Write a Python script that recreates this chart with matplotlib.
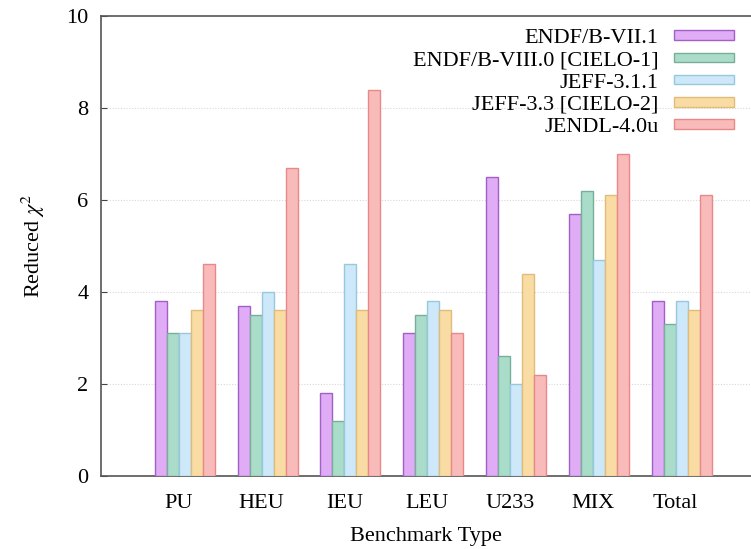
import matplotlib
matplotlib.use("Agg")
import matplotlib.pyplot as plt
import numpy as np
from matplotlib.patches import Patch

categories = ["PU", "HEU", "IEU", "LEU", "U233", "MIX", "Total"]
libraries = ["ENDF/B-VII.1", "ENDF/B-VIII.0 [CIELO-1]", "JEFF-3.1.1",
             "JEFF-3.3 [CIELO-2]", "JENDL-4.0u"]
endf71 = [3.8, 3.7, 1.8, 3.1, 6.5, 5.7, 3.8]
endf80 = [3.1, 3.5, 1.2, 3.5, 2.6, 6.2, 3.3]
jeff311 = [3.1, 4.0, 4.6, 3.8, 2.0, 4.7, 3.8]
jeff33 = [3.6, 3.6, 3.6, 3.6, 4.4, 6.1, 3.6]
jendl40 = [4.6, 6.7, 8.4, 3.1, 2.2, 7.0, 6.1]
series = [endf71, endf80, jeff311, jeff33, jendl40]

fills = ["#e0acf6", "#a9dcc9", "#cde8f8", "#f9dca4", "#f9baba"]
edges = ["#a060c8", "#78ae9a", "#98c8e0", "#e0bc78", "#e88888"]

plt.rcParams['font.family'] = ['Liberation Serif', 'DejaVu Serif']
plt.rcParams['mathtext.fontset'] = 'stix'

fig = plt.figure(figsize=(7.51, 5.49), dpi=100)
ax = fig.add_axes([101/751, 1 - 476/549, 1 - 101/751, (476 - 16)/549])

x = np.arange(len(categories))
w = 0.145
offsets = [-2, -1, 0, 1, 2]
for i, vals in enumerate(series):
    ax.bar(x + (offsets[i] + 0.5) * w, vals, width=w, color=fills[i],
           edgecolor=edges[i], linewidth=1.0, zorder=3)

ax.set_xlim(-0.94, 6.91)
ax.set_ylim(0, 10)
ax.set_yticks([0, 2, 4, 6, 8, 10])
ax.set_xticks(x)
ax.set_xticklabels(categories)
ax.tick_params(axis='both', labelsize=16, color='#444444', length=4,
               direction='in', width=0.8)
ax.tick_params(axis='x', pad=13)
ax.tick_params(axis='y', pad=9)
for yv in [2, 4, 6, 8]:
    ax.axhline(yv, color='#d8d8d8', linestyle=(0, (1, 1.5)), linewidth=0.8, zorder=1)
for s in ['left', 'bottom', 'top']:
    ax.spines[s].set_color('#555555')
    ax.spines[s].set_linewidth(1.2)
ax.spines['right'].set_visible(False)

ax.set_ylabel(r"Reduced $\chi^2$", fontsize=16, labelpad=14)
ax.set_xlabel("Benchmark Type", fontsize=16, labelpad=10)

handles = [Patch(facecolor=fills[i], edgecolor=edges[i], linewidth=1.0)
           for i in range(5)]
leg = ax.legend(handles, libraries, loc='upper right', bbox_to_anchor=(0.995, 1.0),
                frameon=False, fontsize=16, markerfirst=False,
                handlelength=2.7, handleheight=0.3, labelspacing=0.14,
                handletextpad=0.7, borderaxespad=0.2)
for t in leg.get_texts():
    t.set_ha('right')
leg._legend_box.align = "right"

fig.savefig("out.png", dpi=100)
